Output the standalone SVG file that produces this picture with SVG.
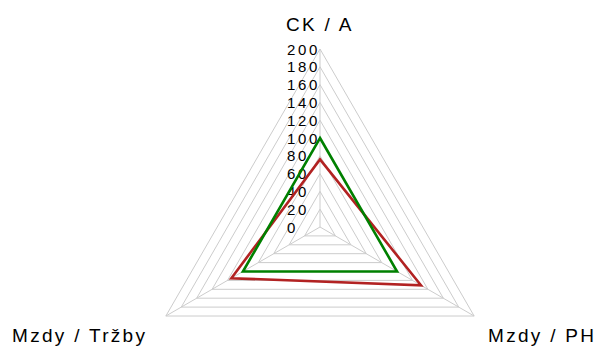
<svg xmlns="http://www.w3.org/2000/svg" width="597" height="349" viewBox="0 0 597 349">
<style>
.grid{fill:none;stroke:#cccccc;stroke-width:1}
.tick{font-family:"Liberation Sans",Arial,sans-serif;font-size:15px;letter-spacing:2.6px;fill:#000}
.axl{font-family:"Liberation Sans",Arial,sans-serif;font-size:19px;letter-spacing:2.3px;fill:#000}
.ser{fill:none;stroke-width:2.6;stroke-linejoin:miter}
</style>
<rect width="597" height="349" fill="#ffffff"/>
<g id="grid">
<polygon class="grid" points="320,209.2 335.42,235.9 304.58,235.9"/>
<polygon class="grid" points="320,191.4 350.83,244.8 289.17,244.8"/>
<polygon class="grid" points="320,173.6 366.25,253.7 273.75,253.7"/>
<polygon class="grid" points="320,155.8 381.66,262.6 258.34,262.6"/>
<polygon class="grid" points="320,138 397.07,271.5 242.93,271.5"/>
<polygon class="grid" points="320,120.2 412.49,280.4 227.51,280.4"/>
<polygon class="grid" points="320,102.4 427.9,289.3 212.1,289.3"/>
<polygon class="grid" points="320,84.6 443.32,298.2 196.68,298.2"/>
<polygon class="grid" points="320,66.8 458.73,307.1 181.27,307.1"/>
<polygon class="grid" points="320,49 474.15,316 165.85,316"/>
<line class="grid" x1="320" y1="227" x2="320" y2="49"/>
<line class="grid" x1="320" y1="227" x2="474.15" y2="316"/>
<line class="grid" x1="320" y1="227" x2="165.85" y2="316"/>
</g>
<g id="ticks">
<text class="tick" x="287" y="232.5">0</text>
<text class="tick" x="287" y="214.7">20</text>
<text class="tick" x="287" y="196.9">40</text>
<text class="tick" x="287" y="179.1">60</text>
<text class="tick" x="287" y="161.3">80</text>
<text class="tick" x="287" y="143.5">100</text>
<text class="tick" x="287" y="125.7">120</text>
<text class="tick" x="287" y="107.9">140</text>
<text class="tick" x="287" y="90.1">160</text>
<text class="tick" x="287" y="72.3">180</text>
<text class="tick" x="287" y="54.5">200</text>
</g>
<g id="series">
<polygon id="series-red" class="ser" stroke="#b22222" points="320,159.4 420.97,285.3 231.36,278.2"/>
<polygon id="series-green" class="ser" stroke="#008000" points="320,138 397.07,271.5 242.93,271.5"/>
</g>
<g id="axis-ck-a"><text class="axl" x="286" y="31">CK / A</text></g>
<g id="axis-mzdy-ph"><text class="axl" x="488" y="342">Mzdy / PH</text></g>
<g id="axis-mzdy-trzby"><text class="axl" x="12" y="342">Mzdy / Tržby</text></g>
</svg>
